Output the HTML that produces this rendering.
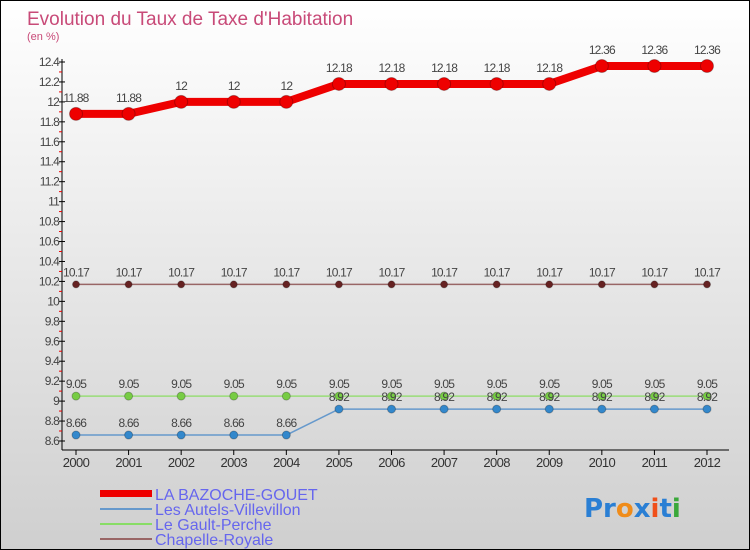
<!DOCTYPE html>
<html><head><meta charset="utf-8"><style>
body{margin:0}
#wrap{position:relative;width:748px;height:548px;border:1px solid #000;background:linear-gradient(#fff,#cfcfcf);font-family:"Liberation Sans",sans-serif;overflow:hidden}
</style></head><body>
<div id="wrap">
<svg id="svg" width="748" height="548" style="position:absolute;left:0;top:0">
<text x="26" y="24" font-size="19" fill="#c84a78">Evolution du Taux de Taxe d'Habitation</text>
<text x="26" y="39" font-size="11" fill="#c84a78">(en %)</text>
<g id="axes"></g><g id="series"></g>
<g>
<rect x="99" y="489" width="52" height="7" fill="#e00"/>
<text x="154" y="499" font-size="16" fill="#6666ee">LA BAZOCHE-GOUET</text>
<rect x="99" y="507" width="52" height="2" fill="#6699cc"/>
<text x="154" y="514" font-size="16" fill="#6666ee">Les Autels-Villevillon</text>
<rect x="99" y="522" width="52" height="2" fill="#88dd66"/>
<text x="154" y="529" font-size="16" fill="#6666ee">Le Gault-Perche</text>
<rect x="99" y="537" width="52" height="2" fill="#996666"/>
<text x="154" y="544" font-size="16" fill="#6666ee">Chapelle-Royale</text>
</g>
<text x="583" y="516" font-size="26" font-weight="bold" font-family="DejaVu Sans,sans-serif"><tspan fill="#2a7fd4">Pr</tspan><tspan fill="#f08c1a">o</tspan><tspan fill="#2a7fd4">x</tspan><tspan fill="#f0501a">i</tspan><tspan fill="#2a7fd4">t</tspan><tspan fill="#3aa83a">i</tspan></text>
</svg></div>
<script>
const years=[2000,2001,2002,2003,2004,2005,2006,2007,2008,2009,2010,2011,2012];
const bazoche=[11.88,11.88,12,12,12,12.18,12.18,12.18,12.18,12.18,12.36,12.36,12.36];
const autels=[8.66,8.66,8.66,8.66,8.66,8.92,8.92,8.92,8.92,8.92,8.92,8.92,8.92];
const gault=[9.05,9.05,9.05,9.05,9.05,9.05,9.05,9.05,9.05,9.05,9.05,9.05,9.05];
const chapelle=[10.17,10.17,10.17,10.17,10.17,10.17,10.17,10.17,10.17,10.17,10.17,10.17,10.17];
const yTicks=[8.6,8.8,9,9.2,9.4,9.6,9.8,10,10.2,10.4,10.6,10.8,11,11.2,11.4,11.6,11.8,12,12.2,12.4];
const NS="http://www.w3.org/2000/svg";
const xs=i=>75+i*(706-75)/(years.length-1);
const ys=v=>61+(12.4-v)*(440-61)/3.8;
function mk(t,a,p){const e=document.createElementNS(NS,t);for(const k in a)e.setAttribute(k,a[k]);p.appendChild(e);return e;}
const ax=document.getElementById('axes');
let l=mk('line',{x1:61,y1:58,x2:61,y2:449,stroke:'#000'},ax);


l=mk('line',{x1:61,y1:449,x2:728,y2:449,stroke:'#000'},ax);


yTicks.forEach((v,i)=>{const y=ys(v);
mk('line',{x1:58,y1:y,x2:64,y2:y,stroke:'#000'},ax);
if(i<yTicks.length-1)mk('line',{x1:58,y1:y-10,x2:61,y2:y-10,stroke:'#e00'},ax);
const t=mk('text',{x:58,y:y+4,'font-size':12,fill:'#444','text-anchor':'end','letter-spacing':'-0.8'},ax);t.textContent=String(v);

});
years.forEach((yr,i)=>{const x=xs(i);
mk('line',{x1:x,y1:449,x2:x,y2:454,stroke:'#000'},ax);
const t=mk('text',{x:x,y:466,'font-size':13,fill:'#333','text-anchor':'middle','letter-spacing':'-0.6'},ax);t.textContent=yr;

});
const sg=document.getElementById('series');
function series(name,vals,color,w,r,dotc){
const g=mk('g',{},sg);


mk('polyline',{points:vals.map((v,i)=>xs(i)+','+ys(v)).join(' '),fill:'none',stroke:color,'stroke-width':w,'stroke-linejoin':'round'},g);
vals.forEach((v,i)=>{const c=mk('circle',{cx:xs(i),cy:ys(v),r:r,fill:dotc,stroke:'rgba(0,0,0,0.25)'},g);


const t=mk('text',{x:xs(i),y:ys(v)-(name==='bazoche'?12:8),'font-size':12,fill:'#444','text-anchor':'middle','letter-spacing':'-0.8'},g);t.textContent=String(v);

});}
series('chapelle',chapelle,'#996666',1.5,3.5,'#662222');
series('gault',gault,'#99dd77',1.5,4,'#77cc44');
series('autels',autels,'#6699cc',1.5,4,'#3388cc');
series('bazoche',bazoche,'#e00',8,6.5,'#e00');
</script></body></html>
